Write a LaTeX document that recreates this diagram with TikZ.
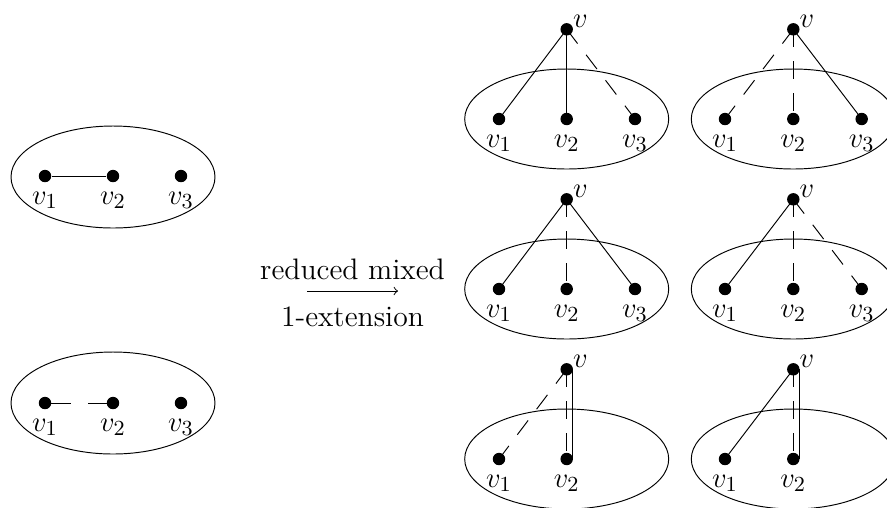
\documentclass[tikz,border=0pt,12pt]{standalone}
\begin{document}
\begin{tikzpicture}[x=0.0147059cm, y=-0.0147059cm,
  every node/.append style={font=\fontsize{12.4}{15}\selectfont},
  dot/.style={circle, fill=black, inner sep=0pt, minimum size=5.2pt},
  lbl/.style={inner sep=3.6pt},
  vlbl/.style={inner sep=0.5pt, yshift=-2pt},
  dsh/.style={dash pattern=on 7.5pt off 5.9pt},
  dshlong/.style={dash pattern=on 10.9pt off 7.1pt},
  blob/.style={draw}]
\useasboundingbox (0,0) rectangle (887,507);

% left top
\draw[blob] (113,177) ellipse [x radius=102, y radius=51];
\node[dot, label={[lbl]below:$v_1$}] (a1) at (45,176) {};
\node[dot, label={[lbl]below:$v_2$}] (a2) at (113,176) {};
\node[dot, label={[lbl]below:$v_3$}] (a3) at (181,176) {};
\draw (a1) -- (a2);

% left bottom
\draw[blob] (113,403) ellipse [x radius=102, y radius=51];
\node[dot, label={[lbl]below:$v_1$}] (b1) at (45,403) {};
\node[dot, label={[lbl]below:$v_2$}] (b2) at (113,403) {};
\node[dot, label={[lbl]below:$v_3$}] (b3) at (181,403) {};
\draw[dshlong] (b1.center) -- (b2.center);

% arrow
\coordinate (as) at (307,291);
\coordinate (ae) at (398,291);
\draw[->] (as) -- node[above=0.6pt]{reduced mixed} node[below=2.6pt]{1-extension} (ae);

% row 1 col 1
\draw[blob] (566.7,119) ellipse [x radius=102, y radius=50];
\node[dot, label={[vlbl]45:$v$}] (c) at (566.7,29.3) {};
\node[dot, label={[lbl]below:$v_1$}] (c1) at (499,119) {};
\node[dot, label={[lbl]below:$v_2$}] (c2) at (566.7,119) {};
\node[dot, label={[lbl]below:$v_3$}] (c3) at (635,119) {};
\draw (c.center) -- (c1.center);
\draw (c.center) -- (c2.center);
\draw[dsh] (c.center) -- (c3.center);

% row 1 col 2
\draw[blob] (793.3,119) ellipse [x radius=102, y radius=50];
\node[dot, label={[vlbl]45:$v$}] (d) at (793.3,29.3) {};
\node[dot, label={[lbl]below:$v_1$}] (d1) at (725,119) {};
\node[dot, label={[lbl]below:$v_2$}] (d2) at (793.3,119) {};
\node[dot, label={[lbl]below:$v_3$}] (d3) at (861.7,119) {};
\draw[dsh] (d.center) -- (d1.center);
\draw[dsh] (d.center) -- (d2.center);
\draw (d.center) -- (d3.center);

% row 2 col 1
\draw[blob] (566.7,289) ellipse [x radius=102, y radius=50];
\node[dot, label={[vlbl]45:$v$}] (e) at (566.7,199.3) {};
\node[dot, label={[lbl]below:$v_1$}] (e1) at (499,289) {};
\node[dot, label={[lbl]below:$v_2$}] (e2) at (566.7,289) {};
\node[dot, label={[lbl]below:$v_3$}] (e3) at (635,289) {};
\draw (e.center) -- (e1.center);
\draw[dsh] (e.center) -- (e2.center);
\draw (e.center) -- (e3.center);

% row 2 col 2
\draw[blob] (793.3,289) ellipse [x radius=102, y radius=50];
\node[dot, label={[vlbl]45:$v$}] (f) at (793.3,199.3) {};
\node[dot, label={[lbl]below:$v_1$}] (f1) at (725,289) {};
\node[dot, label={[lbl]below:$v_2$}] (f2) at (793.3,289) {};
\node[dot, label={[lbl]below:$v_3$}] (f3) at (861.7,289) {};
\draw (f.center) -- (f1.center);
\draw[dsh] (f.center) -- (f2.center);
\draw[dsh] (f.center) -- (f3.center);

% row 3 col 1
\draw[blob] (566.7,459) ellipse [x radius=102, y radius=50];
\node[dot, label={[vlbl]45:$v$}] (g) at (566.7,369.3) {};
\node[dot, label={[lbl]below:$v_1$}] (g1) at (499,459) {};
\node[dot, label={[lbl]below:$v_2$}] (g2) at (566.7,459) {};
\draw[dsh] (g.center) -- (g1.center);
\draw[dsh] (g.center) -- (g2.center);
\draw ([xshift=2.5pt]g.center) -- ([xshift=2.5pt]g2.center);

% row 3 col 2
\draw[blob] (793.3,459) ellipse [x radius=102, y radius=50];
\node[dot, label={[vlbl]45:$v$}] (h) at (793.3,369.3) {};
\node[dot, label={[lbl]below:$v_1$}] (h1) at (725,459) {};
\node[dot, label={[lbl]below:$v_2$}] (h2) at (793.3,459) {};
\draw (h.center) -- (h1.center);
\draw[dsh] (h.center) -- (h2.center);
\draw ([xshift=2.5pt]h.center) -- ([xshift=2.5pt]h2.center);
\end{tikzpicture}
\end{document}
